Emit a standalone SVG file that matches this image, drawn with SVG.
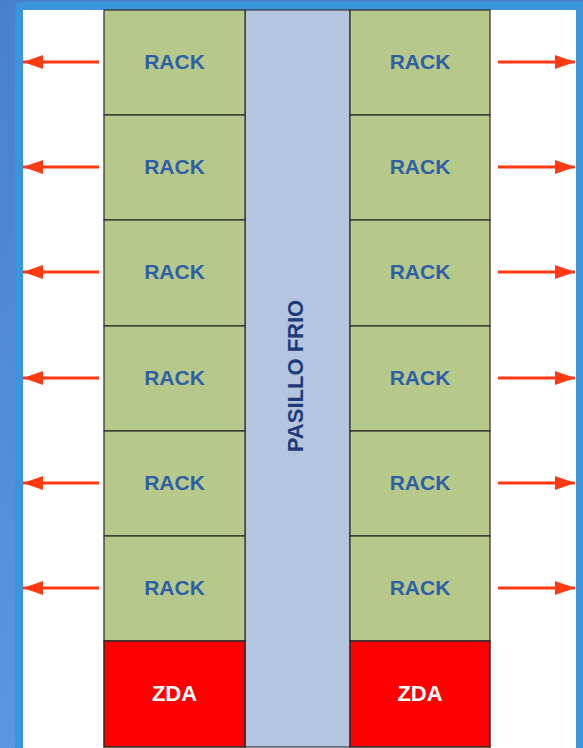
<svg xmlns="http://www.w3.org/2000/svg" width="583" height="748" viewBox="0 0 583 748">
<defs>
<linearGradient id="bg" x1="0" y1="0" x2="0" y2="1">
<stop offset="0" stop-color="#4a7fcc"/>
<stop offset="1" stop-color="#5a97e0"/>
</linearGradient>
<marker id="ah" viewBox="0 0 20 14" refX="20" refY="7" markerWidth="20" markerHeight="14" markerUnits="userSpaceOnUse" orient="auto">
<path d="M0,0 L20,7 L0,14 Z" fill="#ff3a12"/>
</marker>
<style>
.rack{fill:#b6c98a;stroke:#2a2a2a;stroke-width:1.2}
.zda{fill:#ff0000;stroke:#2a2a2a;stroke-width:1.5}
.aisle{fill:#b4c5df;stroke:#3a3a3a;stroke-width:1.2}
.rt{font-family:"Liberation Sans",Arial,sans-serif;font-weight:bold;font-size:21px;fill:#2f5fa6;text-anchor:middle}
.zt{font-family:"Liberation Sans",Arial,sans-serif;font-weight:bold;font-size:22px;fill:#ffffff;text-anchor:middle}
.at{font-family:"Liberation Sans",Arial,sans-serif;font-weight:bold;font-size:22px;fill:#1d3a7a;text-anchor:middle}
.arr{stroke:#ff3a12;stroke-width:3;fill:none;marker-end:url(#ah)}
</style>
</defs>
<rect x="0" y="0" width="583" height="748" fill="url(#bg)"/>
<rect x="15" y="2" width="580" height="760" rx="6" fill="#3a95dd"/>
<rect x="23" y="10" width="553" height="738" fill="#ffffff"/>
<g id="aisle">
<rect class="aisle" x="245" y="10" width="105" height="737"/>
<text class="at" transform="translate(303,376) rotate(-90)">PASILLO FRIO</text>
</g>
<g id="rack-l1"><rect class="rack" x="104" y="10" width="141" height="105"/><text class="rt" x="174.5" y="69">RACK</text></g>
<g id="rack-l2"><rect class="rack" x="104" y="115" width="141" height="105"/><text class="rt" x="174.5" y="174">RACK</text></g>
<g id="rack-l3"><rect class="rack" x="104" y="220" width="141" height="106"/><text class="rt" x="174.5" y="279">RACK</text></g>
<g id="rack-l4"><rect class="rack" x="104" y="326" width="141" height="105"/><text class="rt" x="174.5" y="385">RACK</text></g>
<g id="rack-l5"><rect class="rack" x="104" y="431" width="141" height="105"/><text class="rt" x="174.5" y="490">RACK</text></g>
<g id="rack-l6"><rect class="rack" x="104" y="536" width="141" height="105"/><text class="rt" x="174.5" y="595">RACK</text></g>
<g id="zda-l"><rect class="zda" x="104" y="641" width="141" height="106"/><text class="zt" x="174.5" y="701">ZDA</text></g>
<g id="rack-r1"><rect class="rack" x="350" y="10" width="140" height="105"/><text class="rt" x="420" y="69">RACK</text></g>
<g id="rack-r2"><rect class="rack" x="350" y="115" width="140" height="105"/><text class="rt" x="420" y="174">RACK</text></g>
<g id="rack-r3"><rect class="rack" x="350" y="220" width="140" height="106"/><text class="rt" x="420" y="279">RACK</text></g>
<g id="rack-r4"><rect class="rack" x="350" y="326" width="140" height="105"/><text class="rt" x="420" y="385">RACK</text></g>
<g id="rack-r5"><rect class="rack" x="350" y="431" width="140" height="105"/><text class="rt" x="420" y="490">RACK</text></g>
<g id="rack-r6"><rect class="rack" x="350" y="536" width="140" height="105"/><text class="rt" x="420" y="595">RACK</text></g>
<g id="zda-r"><rect class="zda" x="350" y="641" width="140" height="106"/><text class="zt" x="420" y="701">ZDA</text></g>
<g id="connectors">
<line class="arr" x1="99" y1="62" x2="23" y2="62"/>
<line class="arr" x1="99" y1="167" x2="23" y2="167"/>
<line class="arr" x1="99" y1="272" x2="23" y2="272"/>
<line class="arr" x1="99" y1="378" x2="23" y2="378"/>
<line class="arr" x1="99" y1="483" x2="23" y2="483"/>
<line class="arr" x1="99" y1="588" x2="23" y2="588"/>
<line class="arr" x1="498" y1="62" x2="575" y2="62"/>
<line class="arr" x1="498" y1="167" x2="575" y2="167"/>
<line class="arr" x1="498" y1="272" x2="575" y2="272"/>
<line class="arr" x1="498" y1="378" x2="575" y2="378"/>
<line class="arr" x1="498" y1="483" x2="575" y2="483"/>
<line class="arr" x1="498" y1="588" x2="575" y2="588"/>
</g>
</svg>
